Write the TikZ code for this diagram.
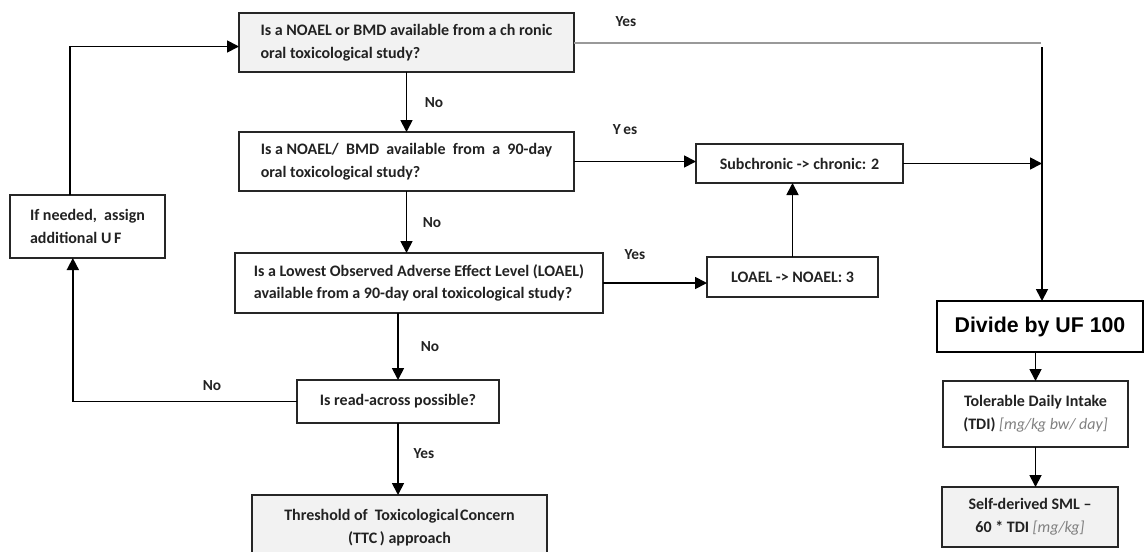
\documentclass[tikz,border=0pt]{standalone}
\usepackage{fontspec}
\setmainfont{Carlito}
\newfontfamily\arialfont{Liberation Sans}
\usetikzlibrary{arrows.meta,calc}
\definecolor{boxgray}{HTML}{F2F2F2}
\definecolor{linegray}{HTML}{999999}
\definecolor{txt}{HTML}{222222}
\begin{document}
\begin{tikzpicture}[x=0.75pt,y=-0.75pt,
  box/.style={draw=black!85, line width=1.1pt, inner sep=0pt, outer sep=0pt,
    font=\bfseries\fontsize{12}{17}\selectfont, text=txt},
  grey/.style={fill=boxgray},
  lbl/.style={font=\bfseries\fontsize{11.5}{13}\selectfont, text=txt, inner sep=0pt},
  arr/.style={line width=1.3pt, -{Triangle[length=9pt,width=9pt]}}
]
\useasboundingbox (0,0) rectangle (1145,551);

% boxes
\node[box, grey, minimum width=251.25pt, minimum height=44.25pt, align=left] (b1) at (406.5,42.5)
  {Is a NOAEL or BMD available from a ch ronic\\oral toxicological study?};
\node[box, minimum width=251.25pt, minimum height=44.25pt, align=left] (b2) at (406.5,161.5)
  {Is a NOAEL/\ \ BMD \ available \ from \ a \ 90-day\\oral toxicological study?};
\node[box, minimum width=276pt, minimum height=45pt, align=left] (b3) at (419,283)
  {Is a Lowest Observed Adverse Effect Level (LOAEL)\\available from a 90-day oral toxicological study?};
\node[box, minimum width=151.5pt, minimum height=32.25pt] (b4) at (398,401.5)
  {Is read-across possible?};
\node[box, grey, minimum width=221.25pt, minimum height=48.75pt, align=center] (ttc) at (399.5,527.5)
  {Threshold of\ \ Toxicological\hspace{1pt}Concern\\(TTC\,) approach};
\node[box, minimum width=116.25pt, minimum height=47.25pt, align=left] (uf) at (87.5,226.5)
  {If needed,\ \ assign\\additional U\,F};
\node[box, minimum width=155.25pt, minimum height=29.25pt] (sub) at (799.5,163.5)
  {Subchronic -> chronic: 2};
\node[box, minimum width=128.25pt, minimum height=30pt] (lo) at (792.5,277)
  {LOAEL -> NOAEL: 3};
\node[box, draw=black, line width=2pt, minimum width=154.5pt, minimum height=38.25pt,
  font=\arialfont\bfseries\fontsize{16}{18}\selectfont, text=black] (div) at (1040,326.5)
  {Divide by UF 100};
\node[box, minimum width=138.75pt, minimum height=49.5pt, align=center] (tdi) at (1035.5,414)
  {Tolerable Daily Intake\\(TDI) {\mdseries\itshape\color{black!50}[mg/kg bw/ day]}};
\node[box, grey, minimum width=132pt, minimum height=45pt, align=center] (sml) at (1030,517)
  {Self-derived SML --\\60 * TDI {\mdseries\itshape\color{black!50}[mg/kg]}};

% junction coordinates on the right vertical line
\coordinate (jt) at (1041,42.5);
\coordinate (jv) at (1042,47);

% connectors
\draw[arr] (b1.south) -- (b2.north);
\draw[arr] (b2.south) -- (b2.south |- b3.north);
\draw[arr] (b3.south -| b4.north) -- (b4.north);
\draw[arr] (b4.south) -- (b4.south |- ttc.north);

\draw[line width=1.5pt, linegray] (b1.east) -- (jt);
\draw[arr] (jv) -- (jv |- div.north);

\draw[arr] (b2.east) -- (b2.east -| sub.west);
\draw[arr] (sub.east) -- (sub.east -| jv);
\draw[arr] (b3.east) -- (b3.east -| lo.west);
\draw[arr] (lo.north) -- (lo.north |- sub.south);

\draw[arr] (b4.west) -| ([xshift=-11pt]uf.south);
\draw[arr] ([xshift=-13pt]uf.north) |- ([yshift=-3pt]b1.west);

\draw[arr] (div.south -| tdi.north) -- (tdi.north);
\draw[arr] (tdi.south) -- (tdi.south |- sml.north);

% labels
\node[lbl] (yes1) at (626,22) {Yes};
\node[lbl] (yes2) at (625,130) {Y\,es};
\node[lbl] (yes3) at (635,255) {Yes};
\node[lbl] (no1) at (434,103) {No};
\node[lbl] (no2) at (432,223) {No};
\node[lbl] (no3) at (430,347) {No};
\node[lbl] (no4) at (212,386) {No};
\node[lbl] (yes4) at (424,454) {Yes};
\end{tikzpicture}
\end{document}
